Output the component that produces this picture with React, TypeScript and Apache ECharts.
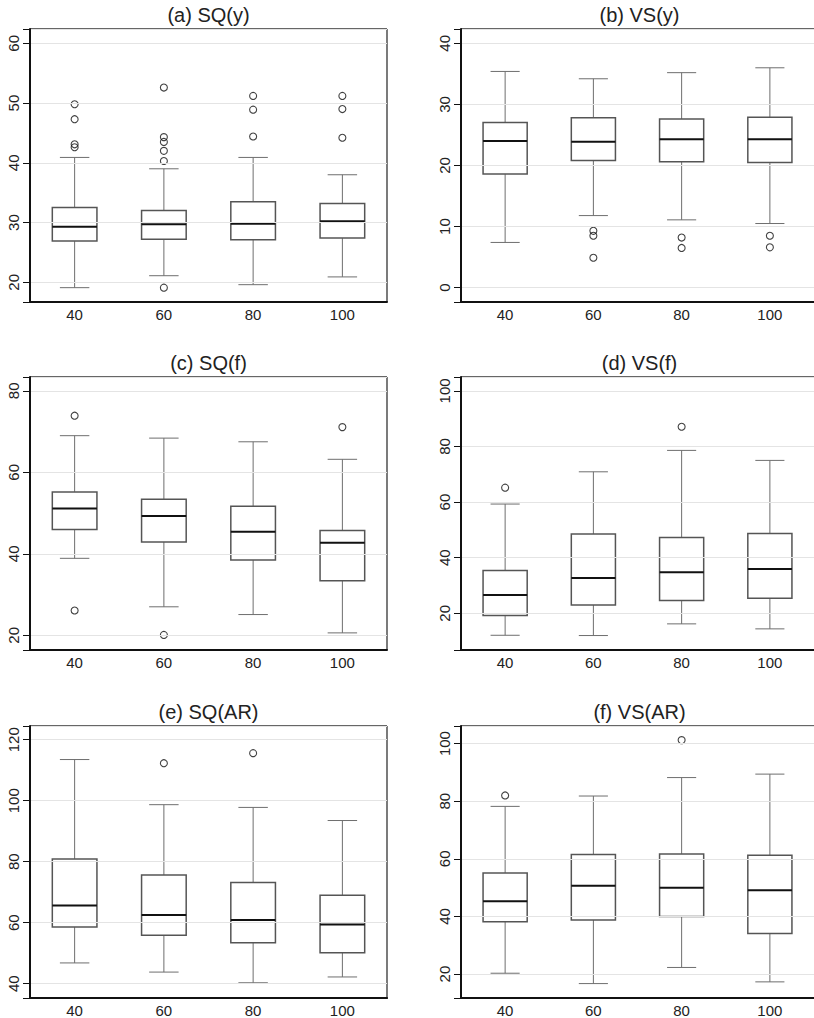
import React, { useEffect, useRef } from "react";
import * as echarts from "echarts";

// ---------- data ----------
const categories = ["40", "60", "80", "100"];

// each row: [lower whisker, Q1, median, Q3, upper whisker]
const sqYStats = [
  [19.1, 26.9, 29.3, 32.5, 40.9],
  [21.1, 27.2, 29.7, 32.0, 39.0],
  [19.6, 27.1, 29.8, 33.5, 40.9],
  [20.9, 27.4, 30.2, 33.2, 38.0],
];
const sqYOutliers = [
  [0, 49.8], [0, 47.3], [0, 43.1], [0, 42.6],
  [1, 52.6], [1, 44.3], [1, 43.5], [1, 42.0], [1, 40.3], [1, 19.1],
  [2, 51.2], [2, 48.9], [2, 44.4],
  [3, 51.2], [3, 49.0], [3, 44.2],
];

const vsYStats = [
  [7.4, 18.6, 24.0, 27.05, 35.4],
  [11.8, 20.8, 23.9, 27.8, 34.2],
  [11.1, 20.6, 24.3, 27.6, 35.2],
  [10.5, 20.5, 24.3, 27.9, 36.0],
];
const vsYOutliers = [
  [1, 9.3], [1, 8.5], [1, 4.9],
  [2, 8.2], [2, 6.5],
  [3, 8.5], [3, 6.6],
];

const sqFStats = [
  [38.9, 46.0, 51.1, 55.2, 69.0],
  [27.0, 42.9, 49.3, 53.4, 68.4],
  [25.1, 38.5, 45.4, 51.7, 67.5],
  [20.6, 33.4, 42.7, 45.7, 63.2],
];
const sqFOutliers = [
  [0, 73.9], [0, 26.1],
  [1, 20.1],
  [3, 71.1],
];

const vsFStats = [
  [12.1, 19.2, 26.6, 35.4, 59.3],
  [12.0, 23.0, 32.7, 48.5, 70.9],
  [16.2, 24.6, 34.8, 47.3, 78.6],
  [14.4, 25.4, 35.9, 48.7, 75.0],
];
const vsFOutliers = [
  [0, 65.2],
  [2, 87.1],
];

const sqARStats = [
  [46.8, 58.6, 65.6, 80.9, 113.5],
  [43.8, 55.9, 62.5, 75.6, 98.7],
  [40.3, 53.4, 60.9, 73.2, 97.8],
  [42.2, 50.1, 59.4, 69.0, 93.5],
];
const sqAROutliers = [
  [1, 112.3],
  [2, 115.6],
];

const vsARStats = [
  [20.3, 38.2, 45.3, 55.1, 78.2],
  [16.7, 38.8, 50.7, 61.5, 81.8],
  [22.3, 40.0, 50.0, 61.7, 88.2],
  [17.3, 34.1, 49.1, 61.2, 89.4],
];
const vsAROutliers = [
  [0, 82.0],
  [2, 101.2],
];

// y-axis tick steps (labels every step) per panel
const tickSteps = [10, 10, 20, 20, 20, 20];

// ---------- layout / panels ----------
const panels = [
  { title: "(a) SQ(y)", stats: sqYStats, outliers: sqYOutliers, min: 16.7, max: 62.4 },
  { title: "(b) VS(y)", stats: vsYStats, outliers: vsYOutliers, min: -2.35, max: 42.35 },
  { title: "(c) SQ(f)", stats: sqFStats, outliers: sqFOutliers, min: 16.4, max: 83.4 },
  { title: "(d) VS(f)", stats: vsFStats, outliers: vsFOutliers, min: 6.8, max: 105.0 },
  { title: "(e) SQ(AR)", stats: sqARStats, outliers: sqAROutliers, min: 35.3, max: 124.5 },
  { title: "(f) VS(AR)", stats: vsARStats, outliers: vsAROutliers, min: 11.7, max: 106.1 },
];

const colLeft = [30, 461];
const rowTop = [29, 377, 726];
const gridW = 357;
const gridH = 273;
const FONT = "'Liberation Sans', Arial, Helvetica, sans-serif";

function renderBox(params: any, api: any) {
  const x = api.value(0);
  const low = api.coord([x, api.value(1)]);
  const q1 = api.coord([x, api.value(2)]);
  const med = api.coord([x, api.value(3)]);
  const q3 = api.coord([x, api.value(4)]);
  const high = api.coord([x, api.value(5)]);
  const band = api.size([1, 0])[0];
  const bw = band * 0.5;
  const cw = band * 0.33;
  const cx = low[0];
  const whisker = { stroke: "#6e6e6e", lineWidth: 1, fill: "none" };
  return {
    type: "group",
    children: [
      { type: "line", shape: { x1: cx, y1: high[1], x2: cx, y2: q3[1] }, style: whisker },
      { type: "line", shape: { x1: cx, y1: q1[1], x2: cx, y2: low[1] }, style: whisker },
      { type: "line", shape: { x1: cx - cw / 2, y1: high[1], x2: cx + cw / 2, y2: high[1] }, style: whisker },
      { type: "line", shape: { x1: cx - cw / 2, y1: low[1], x2: cx + cw / 2, y2: low[1] }, style: whisker },
      {
        type: "rect",
        shape: { x: cx - bw / 2, y: q3[1], width: bw, height: q1[1] - q3[1] },
        style: { fill: "#ffffff", stroke: "#555555", lineWidth: 1.5 },
      },
      {
        type: "line",
        shape: { x1: cx - bw / 2, y1: med[1], x2: cx + bw / 2, y2: med[1] },
        style: { stroke: "#111111", lineWidth: 2 },
      },
    ],
  };
}

function buildOption() {
  const grid: any[] = [];
  const xAxis: any[] = [];
  const yAxis: any[] = [];
  const series: any[] = [];
  const title: any[] = [];
  const graphic: any[] = [];

  panels.forEach((p, i) => {
    const col = i % 2;
    const row = Math.floor(i / 2);
    const left = colLeft[col];
    const top = rowTop[row];
    const step = tickSteps[i];
    grid.push({ left, top, width: gridW, height: gridH, containLabel: false });
    title.push({
      text: p.title,
      left: left + gridW / 2,
      top: top - 24,
      textAlign: "center",
      padding: 0,
      textStyle: { fontFamily: FONT, fontSize: 20, fontWeight: "normal", color: "#222" },
    });
    xAxis.push({
      type: "category",
      gridIndex: i,
      data: categories,
      boundaryGap: true,
      z: 6,
      axisLine: { show: true, onZero: false, lineStyle: { color: "#111", width: 2 } },
      axisTick: { show: false },
      axisLabel: { fontFamily: FONT, fontSize: 15, color: "#222", margin: 5 },
      splitLine: { show: false },
    });
    yAxis.push({
      type: "value",
      gridIndex: i,
      min: p.min,
      max: p.max,
      minInterval: step,
      maxInterval: step,
      z: 6,
      axisLine: { show: true, onZero: false, lineStyle: { color: "#111", width: 2 } },
      axisTick: { show: true, inside: false, length: 7, lineStyle: { color: "#111", width: 1 } },
      axisLabel: {
        fontFamily: FONT,
        fontSize: 15,
        color: "#222",
        rotate: 90,
        margin: 9,
        formatter: (v: number) => (Math.abs(v / step - Math.round(v / step)) < 1e-6 ? String(Math.round(v)) : ""),
      },
      splitLine: { show: true, lineStyle: { color: "#e4e4e4", width: 1.2 } },
    });
    series.push({
      type: "custom",
      xAxisIndex: i,
      yAxisIndex: i,
      renderItem: renderBox,
      encode: { x: 0, y: [1, 2, 3, 4, 5] },
      data: p.stats.map((s, k) => [k, ...s]),
      z: 3,
    });
    series.push({
      type: "scatter",
      xAxisIndex: i,
      yAxisIndex: i,
      symbol: "circle",
      symbolSize: 7,
      itemStyle: { color: "rgba(255,255,255,0)", borderColor: "#111", borderWidth: 1.1 },
      data: p.outliers,
      z: 4,
    });
    // frame edges
    graphic.push({
      type: "line",
      z: 5,
      silent: true,
      shape: { x1: left, y1: top, x2: left + gridW, y2: top },
      style: { stroke: "#333", lineWidth: 1.3 },
    });
    graphic.push({
      type: "line",
      z: 5,
      silent: true,
      shape: { x1: left + gridW, y1: top, x2: left + gridW, y2: top + gridH },
      style: { stroke: "#333", lineWidth: 1.3 },
    });
    graphic.push({
      type: "line",
      z: 5,
      silent: true,
      shape: { x1: left, y1: top, x2: left, y2: top + gridH },
      style: { stroke: "#111", lineWidth: 2 },
    });
  });

  return { animation: false, backgroundColor: "#ffffff", grid, xAxis, yAxis, series, title, graphic };
}

export default function App() {
  const ref = useRef<HTMLDivElement>(null);
  useEffect(() => {
    if (!ref.current) return;
    const chart = echarts.init(ref.current, null, { renderer: "svg" });
    chart.setOption(buildOption() as any);
    return () => chart.dispose();
  }, []);
  return (
    <div
      ref={ref}
      style={{ position: "absolute", left: 0, top: 0, width: 814, height: 1018, background: "#fff" }}
    />
  );
}
